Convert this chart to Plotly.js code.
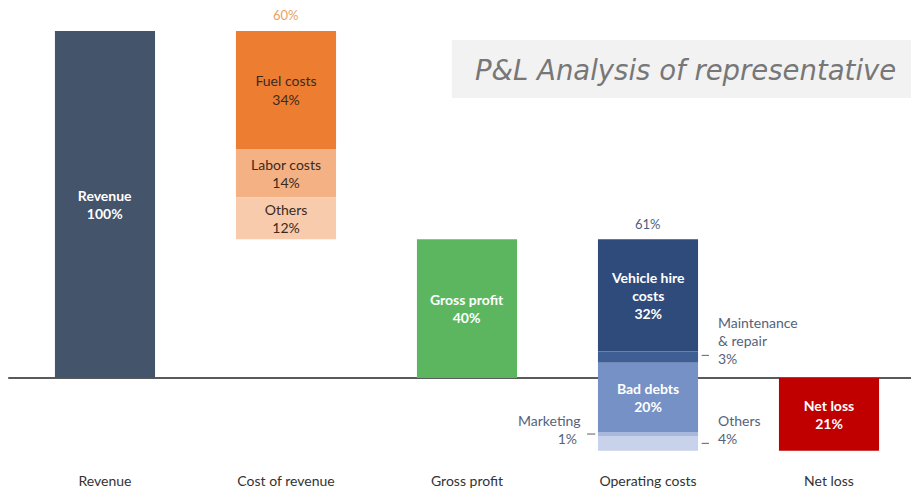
<!DOCTYPE html>
<html>
<head>
<meta charset="utf-8">
<script src="https://cdn.plot.ly/plotly-3.0.1.min.js"></script>
<style>html,body{margin:0;padding:0;background:#fff;}#chart{width:911px;height:495px;}</style>
</head>
<body>
<div id="chart"></div>
<script>
// ---- data ----
const categories = ['Revenue', 'Cost of revenue', 'Gross profit', 'Operating costs', 'Net loss'];
const revenueValue = 100;
const costNames = ['Fuel costs', 'Labor costs', 'Others'];
const costValues = [34, 14, 12];
const grossProfitValue = 40;
const opexNames = ['Vehicle hire costs', 'Maintenance & repair', 'Bad debts', 'Marketing', 'Others'];
const opexValues = [32.4, 3.2, 20.0, 1.1, 4.3];
const netLossValue = 21;
const costTotalLabel = '60%';
const opexTotalLabel = '61%';
const titleText = 'P&L Analysis of representative';

// ---- styles ----
const FONT = 'Lato, "Open Sans", sans-serif';
const TITLE_FONT = '"DejaVu Sans", "Open Sans", sans-serif';
const BAR_W = 0.553;
const costColors = ['#ED7D31', '#F4B183', '#F8CBAD'];
const costTextColors = ['#3b2a20', '#3b2a20', '#3b2a20'];
const opexColors = ['#2F4B7C', '#3F5E93', '#7591C5', '#A9B9DB', '#C8D2EA'];
const pct = v => Math.round(v) + '%';

const traces = [];
function seg(cat, base, val, color, text, textColor, bold) {
  traces.push({
    type: 'bar', x: [cat], y: [val], base: [base], width: BAR_W,
    marker: {color: color, line: {width: 0}},
    text: text ? [text] : undefined,
    textposition: text ? 'inside' : 'none',
    insidetextanchor: 'middle', textangle: 0,
    textfont: {family: FONT, size: 14, color: textColor, weight: bold ? 'bold' : 'normal'},
    hoverinfo: 'skip', showlegend: false
  });
}

// Revenue
seg(categories[0], 0, revenueValue, '#44546A', '<b>Revenue</b><br><b>' + pct(revenueValue) + '</b>', '#ffffff', true);
// Cost of revenue (from top down)
let cursor = revenueValue;
costNames.forEach((n, i) => {
  const v = costValues[i];
  seg(categories[1], cursor - v, v, costColors[i], n + '<br>' + pct(v), costTextColors[i], false);
  cursor -= v;
});
// Gross profit
seg(categories[2], 0, grossProfitValue, '#5CB660', '<b>Gross profit</b><br><b>' + pct(grossProfitValue) + '</b>', '#ffffff', true);
// Operating costs
cursor = grossProfitValue;
const opexMid = [];
opexNames.forEach((n, i) => {
  const v = opexValues[i];
  let txt = null;
  if (i === 0) txt = '<b>Vehicle hire</b><br><b>costs</b><br><b>' + pct(v) + '</b>';
  if (i === 2) txt = '<b>Bad debts</b><br><b>' + pct(v) + '</b>';
  seg(categories[3], cursor - v, v, opexColors[i], txt, '#ffffff', true);
  opexMid.push(cursor - v / 2);
  cursor -= v;
});
// Net loss
seg(categories[4], -netLossValue, netLossValue, '#C00000', '<b>Net loss</b><br><b>' + pct(netLossValue) + '</b>', '#ffffff', true);

const ci = c => categories.indexOf(c);
const opx = ci(categories[3]);
const half = BAR_W / 2;
const annColor = '#56627a';

const shapes = [
  {type: 'rect', xref: 'paper', yref: 'paper', x0: 0.496, x1: 1.02, y0: 0.7906, y1: 0.9145,
   fillcolor: '#F2F2F2', line: {width: 0}, layer: 'below'},
  {type: 'line', xref: 'paper', yref: 'y', x0: 0.009, x1: 1, y0: 0, y1: 0,
   line: {color: '#5a5a5a', width: 2}, layer: 'below'},
  // leader dashes
  {type: 'line', xref: 'x', yref: 'y', x0: opx + half + 0.02, x1: opx + half + 0.06, y0: opexMid[1] + 0.5, y1: opexMid[1] + 0.5, line: {color: '#777', width: 1.2}},
  {type: 'line', xref: 'x', yref: 'y', x0: opx + half + 0.02, x1: opx + half + 0.06, y0: opexMid[4], y1: opexMid[4], line: {color: '#777', width: 1.2}},
  {type: 'line', xref: 'x', yref: 'y', x0: opx - half - 0.06, x1: opx - half - 0.015, y0: opexMid[3], y1: opexMid[3], line: {color: '#777', width: 1.2}}
];

const annotations = [
  {xref: 'paper', yref: 'paper', x: 473 / 911, y: 0.8504, xanchor: 'left', yanchor: 'middle',
   text: '<i>' + titleText + '</i>', showarrow: false,
   font: {family: TITLE_FONT, size: 27.5, color: '#777777'}},
  {x: ci(categories[1]), y: revenueValue, yanchor: 'bottom', yshift: 6, text: costTotalLabel, showarrow: false,
   font: {family: FONT, size: 13, color: '#E8A266'}},
  {x: opx, y: grossProfitValue, yanchor: 'bottom', yshift: 5, text: opexTotalLabel, showarrow: false,
   font: {family: FONT, size: 13, color: '#4d5f80'}},
  {x: opx + half + 0.1, y: opexMid[1], xanchor: 'left', yanchor: 'bottom', yshift: -12,
   text: 'Maintenance<br>&amp; repair<br>' + pct(opexValues[1]), align: 'left', showarrow: false,
   font: {family: FONT, size: 14, color: annColor}},
  {x: opx + half + 0.1, y: opexMid[4], xanchor: 'left', yanchor: 'bottom', yshift: -6,
   text: 'Others<br>' + pct(opexValues[4]), align: 'left', showarrow: false,
   font: {family: FONT, size: 14, color: annColor}},
  {x: opx - half - 0.08, y: opexMid[3], xanchor: 'right', yanchor: 'bottom', yshift: -15,
   text: 'Marketing<br>' + pct(opexValues[3]) + '&nbsp;', align: 'right', showarrow: false,
   font: {family: FONT, size: 14, color: annColor}}
];

const layout = {
  width: 911, height: 495,
  margin: {l: 0, r: 0, t: 0, b: 27, pad: 0},
  paper_bgcolor: '#ffffff', plot_bgcolor: '#ffffff',
  barmode: 'overlay',
  showlegend: false,
  uniformtext: {mode: 'show', minsize: 14},
  xaxis: {type: 'category', categoryorder: 'array', categoryarray: categories,
          range: [-0.58, 4.453], showgrid: false, zeroline: false, showline: false,
          ticks: '', ticklabelstandoff: 3,
          tickfont: {family: FONT, size: 14, color: '#333333'}, fixedrange: true},
  yaxis: {range: [-25.94, 108.93], showgrid: false, zeroline: false, showline: false,
          showticklabels: false, ticks: '', fixedrange: true},
  shapes: shapes,
  annotations: annotations
};

Plotly.newPlot('chart', traces, layout, {displayModeBar: false, staticPlot: true});
</script>
</body>
</html>
